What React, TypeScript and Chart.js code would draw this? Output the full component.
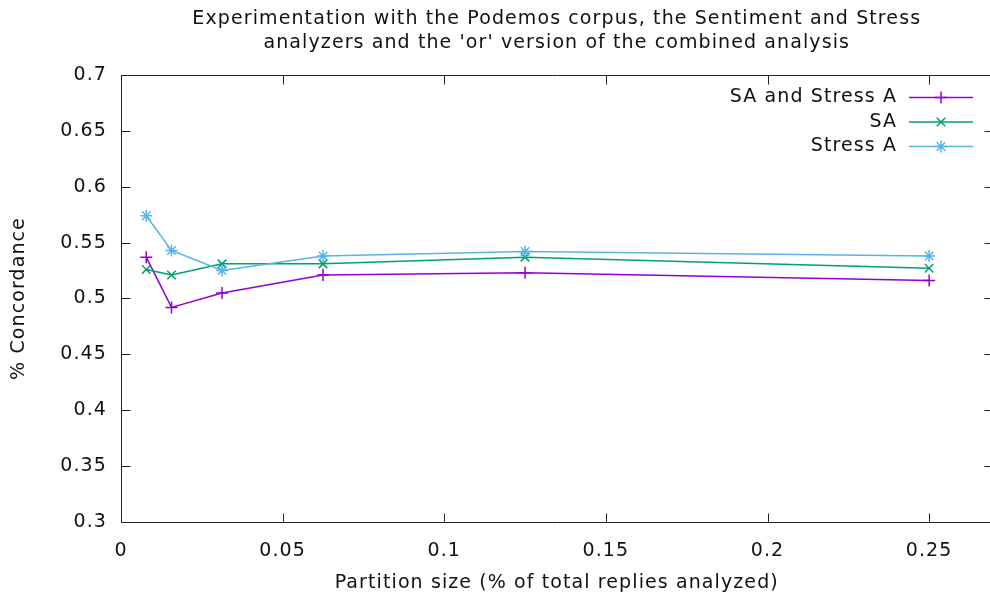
import React, { useEffect, useRef } from "react";
import { Chart, registerables } from "chart.js";

Chart.register(...registerables);

const titleLines = [
  "Experimentation with the Podemos corpus, the Sentiment and Stress",
  "analyzers and the 'or' version of the combined analysis",
];
const xTitle = "Partition size (% of total replies analyzed)";
const yTitle = "% Concordance";

const partitionSizes = [0.0078125, 0.015625, 0.03125, 0.0625, 0.125, 0.25];
const saAndStress = [0.537, 0.492, 0.505, 0.521, 0.523, 0.516];
const saOnly = [0.526, 0.521, 0.531, 0.531, 0.537, 0.527];
const stressOnly = [0.574, 0.543, 0.525, 0.538, 0.542, 0.538];

const seriesNames = ["SA and Stress A", "SA", "Stress A"];
const seriesColors = ["#9400d3", "#009e73", "#56b4e9"];
const seriesMarkers = ["cross", "crossRot", "star"];

const FONT = "'DejaVu Sans', sans-serif";
const FS = 19;
const LETTER_SPACING = "1.1px";

function drawMarker(ctx: CanvasRenderingContext2D, kind: string, x: number, y: number, r: number) {
  ctx.beginPath();
  if (kind === "cross" || kind === "star") {
    ctx.moveTo(x - r, y);
    ctx.lineTo(x + r, y);
    ctx.moveTo(x, y - r);
    ctx.lineTo(x, y + r);
  }
  if (kind === "crossRot" || kind === "star") {
    const d = r * Math.SQRT1_2;
    ctx.moveTo(x - d, y - d);
    ctx.lineTo(x + d, y + d);
    ctx.moveTo(x - d, y + d);
    ctx.lineTo(x + d, y - d);
  }
  ctx.stroke();
}

const spacingPlugin = {
  id: "spacing",
  beforeUpdate(chart: any) {
    (chart.ctx as any).letterSpacing = LETTER_SPACING;
  },
  beforeDraw(chart: any) {
    (chart.ctx as any).letterSpacing = LETTER_SPACING;
  },
};

const framePlugin = {
  id: "gnuframe",
  afterDatasetsDraw(chart: any) {
    const { ctx, chartArea } = chart;
    const { left, right, top, bottom } = chartArea;
    ctx.save();
    ctx.strokeStyle = "#222";
    ctx.lineWidth = 1;
    ctx.beginPath();
    const L = Math.round(left) + 0.5;
    const R = Math.round(right) + 0.5;
    const T = Math.round(top) + 0.5;
    const B = Math.round(bottom) + 0.5;
    ctx.rect(L, T, R - L, B - T);
    const tl = 9;
    chart.scales.x.ticks.forEach((t: any) => {
      const px = Math.round(chart.scales.x.getPixelForValue(t.value)) + 0.5;
      ctx.moveTo(px, B);
      ctx.lineTo(px, B - tl);
      ctx.moveTo(px, T);
      ctx.lineTo(px, T + tl);
    });
    chart.scales.y.ticks.forEach((t: any) => {
      const py = Math.round(chart.scales.y.getPixelForValue(t.value)) + 0.5;
      ctx.moveTo(L, py);
      ctx.lineTo(L + tl, py);
      ctx.moveTo(R, py);
      ctx.lineTo(R - tl, py);
    });
    ctx.stroke();

    // legend (gnuplot style, top right inside the plot)
    ctx.font = `${FS}px ${FONT}`;
    ctx.textAlign = "right";
    ctx.textBaseline = "middle";
    const textRight = 897;
    const sx0 = 909;
    const sx1 = 973;
    seriesNames.forEach((name, i) => {
      const y = top + 22.5 + i * 24.5;
      ctx.fillStyle = "#111";
      ctx.fillText(name, textRight, y);
      ctx.strokeStyle = seriesColors[i];
      ctx.lineWidth = 1.5;
      ctx.beginPath();
      ctx.moveTo(sx0, y);
      ctx.lineTo(sx1, y);
      ctx.stroke();
      drawMarker(ctx, seriesMarkers[i], (sx0 + sx1) / 2, y, 6);
    });
    ctx.restore();
  },
};

const fmt = (v: number) => String(Number(Number(v).toFixed(3)));

export default function App() {
  const ref = useRef<HTMLCanvasElement | null>(null);
  useEffect(() => {
    if (!ref.current) return;
    const series = [saAndStress, saOnly, stressOnly];
    const chart = new Chart(ref.current, {
      type: "line",
      data: {
        datasets: series.map((vals, i) => ({
          label: seriesNames[i],
          data: partitionSizes.map((x, j) => ({ x, y: vals[j] })),
          borderColor: seriesColors[i],
          backgroundColor: seriesColors[i],
          borderWidth: 1.5,
          pointStyle: seriesMarkers[i] as any,
          pointRadius: 6,
          pointBorderWidth: 1.5,
          pointBorderColor: seriesColors[i],
          fill: false,
          tension: 0,
          order: 3 - i,
        })),
      },
      options: {
        responsive: false,
        animation: false,
        devicePixelRatio: 1,
        layout: { padding: { left: 0, right: 4, top: 0, bottom: 0 } },
        plugins: {
          legend: { display: false },
          tooltip: { enabled: false },
          title: {
            display: true,
            fullSize: false,
            text: titleLines,
            color: "#111",
            font: { family: FONT, size: FS, weight: "normal", lineHeight: 24 / 19 },
            padding: { top: 7, bottom: 20 },
          },
        },
        scales: {
          x: {
            type: "linear",
            min: 0,
            max: 0.2696,
            afterFit: (s: any) => {
              s.height = 79;
            },
            ticks: {
              stepSize: 0.05,
              includeBounds: false,
              padding: 18,
              color: "#111",
              font: { family: FONT, size: FS },
              maxRotation: 0,
              callback: (v: any) => fmt(v),
            },
            grid: { display: false, drawTicks: false },
            border: { display: false },
            title: {
              display: true,
              text: xTitle,
              color: "#111",
              font: { family: FONT, size: FS },
              padding: { top: 0, bottom: 6.5 },
            },
          },
          y: {
            type: "linear",
            min: 0.3,
            max: 0.7,
            afterFit: (s: any) => {
              s.width = 121;
            },
            ticks: {
              stepSize: 0.05,
              padding: 14,
              color: "#111",
              font: { family: FONT, size: FS },
              callback: (v: any) => fmt(v),
            },
            grid: { display: false, drawTicks: false },
            border: { display: false },
            title: {
              display: true,
              text: yTitle,
              color: "#111",
              font: { family: FONT, size: FS },
              padding: { top: 8, bottom: 0 },
            },
          },
        },
      },
      plugins: [spacingPlugin, framePlugin],
    });
    return () => chart.destroy();
  }, []);

  return (
    <div
      style={{
        position: "fixed",
        left: 0,
        top: 0,
        width: 990,
        height: 601,
        overflow: "hidden",
        background: "#fff",
      }}
    >
      <canvas ref={ref} width={1000} height={601} style={{ display: "block" }} />
    </div>
  );
}
